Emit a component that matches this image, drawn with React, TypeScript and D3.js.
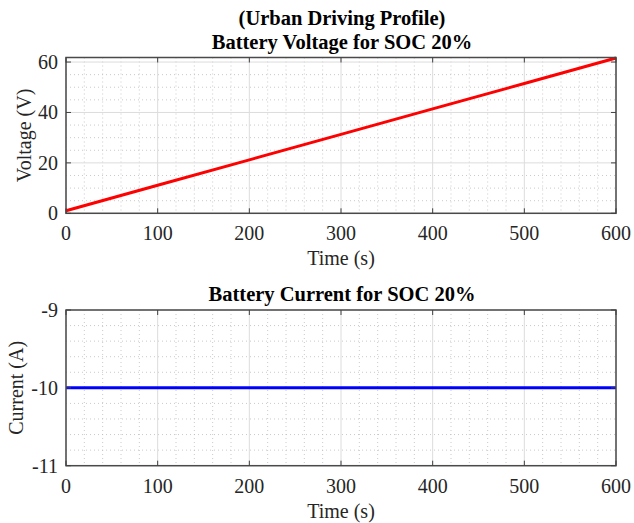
import React, { useEffect, useRef } from 'react';
import * as d3 from 'd3';

// data
const timeS = [0, 100, 200, 300, 400, 500, 600];
const voltageV = [1.0, 11.1, 21.2, 31.3, 41.4, 51.5, 61.6];
const currentA = [-10, -10, -10, -10, -10, -10, -10];

const xTicks = [0, 100, 200, 300, 400, 500, 600];
const vTicks = [0, 20, 40, 60];
const iTicks = [-11, -10, -9];

const W = 634;
const H = 523;
const FONT = '"Liberation Serif", "Times New Roman", serif';

type PanelCfg = {
  top: number;
  bottom: number;
  yDomain: [number, number];
  yTicks: number[];
  yMinorStep: number;
  values: number[];
  color: string;
  yLabel: string;
  yLabelX: number;
  titles: { text: string; y: number }[];
};

export default function App() {
  const svgRef = useRef<SVGSVGElement>(null);

  useEffect(() => {
    const svg = d3.select(svgRef.current);
    svg.selectAll('*').remove();
    svg.append('rect').attr('width', W).attr('height', H).attr('fill', '#fff');

    const left = 66;
    const right = 616;

    const x = d3.scaleLinear().domain([0, 600]).range([left, right]);

    const panels: PanelCfg[] = [
      {
        top: 57.5,
        bottom: 213.3,
        yDomain: [0, 61.8],
        yTicks: vTicks,
        yMinorStep: 5,
        values: voltageV,
        color: '#ff0000',
        yLabel: 'Voltage (V)',
        yLabelX: 24,
        titles: [
          { text: '(Urban Driving Profile)', y: 25 },
          { text: 'Battery Voltage for SOC 20%', y: 49 },
        ],
      },
      {
        top: 310,
        bottom: 465.7,
        yDomain: [-11, -9],
        yTicks: iTicks,
        yMinorStep: 0.2,
        values: currentA,
        color: '#0000ff',
        yLabel: 'Current (A)',
        yLabelX: 16,
        titles: [{ text: 'Battery Current for SOC 20%', y: 301 }],
      },
    ];

    panels.forEach((p) => {
      const y = d3.scaleLinear().domain(p.yDomain).range([p.bottom, p.top]);
      const g = svg.append('g');

      // minor grid
      const xMinor = d3.range(0, 600.001, 20).filter((v) => v % 100 !== 0);
      const yMinor = d3
        .range(p.yDomain[0], p.yDomain[1] + 1e-6, p.yMinorStep)
        .map((v) => Math.round(v * 1000) / 1000)
        .filter((v) => !p.yTicks.includes(v));
      g.selectAll('.xm')
        .data(xMinor)
        .join('line')
        .attr('x1', (d) => x(d))
        .attr('x2', (d) => x(d))
        .attr('y1', p.top)
        .attr('y2', p.bottom)
        .attr('stroke', '#bdbdbd')
        .attr('stroke-width', 0.8)
        .attr('stroke-dasharray', '1,3');
      g.selectAll('.ym')
        .data(yMinor)
        .join('line')
        .attr('x1', left)
        .attr('x2', right)
        .attr('y1', (d) => y(d))
        .attr('y2', (d) => y(d))
        .attr('stroke', '#bdbdbd')
        .attr('stroke-width', 0.8)
        .attr('stroke-dasharray', '1,3');

      // major grid
      g.selectAll('.xg')
        .data(xTicks)
        .join('line')
        .attr('x1', (d) => x(d))
        .attr('x2', (d) => x(d))
        .attr('y1', p.top)
        .attr('y2', p.bottom)
        .attr('stroke', '#dcdcdc')
        .attr('stroke-width', 1);
      g.selectAll('.yg')
        .data(p.yTicks)
        .join('line')
        .attr('x1', left)
        .attr('x2', right)
        .attr('y1', (d) => y(d))
        .attr('y2', (d) => y(d))
        .attr('stroke', '#dcdcdc')
        .attr('stroke-width', 1);

      // data line
      const line = d3
        .line<number>()
        .x((_, i) => x(timeS[i]))
        .y((d) => y(d));
      g.append('path')
        .datum(p.values)
        .attr('fill', 'none')
        .attr('stroke', p.color)
        .attr('stroke-width', 3)
        .attr('d', line);

      // box + inward ticks
      g.append('rect')
        .attr('x', left)
        .attr('y', p.top)
        .attr('width', right - left)
        .attr('height', p.bottom - p.top)
        .attr('fill', 'none')
        .attr('stroke', '#4a4a4a')
        .attr('stroke-width', 1.5);
      const tk = 5;
      xTicks.forEach((t) => {
        g.append('line').attr('x1', x(t)).attr('x2', x(t)).attr('y1', p.bottom).attr('y2', p.bottom - tk).attr('stroke', '#404040');
        g.append('line').attr('x1', x(t)).attr('x2', x(t)).attr('y1', p.top).attr('y2', p.top + tk).attr('stroke', '#404040');
      });
      p.yTicks.forEach((t) => {
        g.append('line').attr('x1', left).attr('x2', left + tk).attr('y1', y(t)).attr('y2', y(t)).attr('stroke', '#404040');
        g.append('line').attr('x1', right).attr('x2', right - tk).attr('y1', y(t)).attr('y2', y(t)).attr('stroke', '#404040');
      });

      // tick labels
      g.selectAll('.xl')
        .data(xTicks)
        .join('text')
        .attr('x', (d) => x(d))
        .attr('y', p.bottom + 27)
        .attr('text-anchor', 'middle')
        .attr('font-family', FONT)
        .attr('font-size', 20)
        .attr('fill', '#262626')
        .text((d) => d);
      g.selectAll('.yl')
        .data(p.yTicks)
        .join('text')
        .attr('x', left - 8)
        .attr('y', (d) => y(d) + 7)
        .attr('text-anchor', 'end')
        .attr('font-family', FONT)
        .attr('font-size', 20)
        .attr('fill', '#262626')
        .text((d) => d);

      // axis labels
      g.append('text')
        .attr('x', (left + right) / 2)
        .attr('y', p.bottom + 52)
        .attr('text-anchor', 'middle')
        .attr('font-family', FONT)
        .attr('font-size', 20)
        .attr('fill', '#262626')
        .text('Time (s)');
      g.append('text')
        .attr('transform', `translate(${p.yLabelX},${(p.top + p.bottom) / 2}) rotate(-90)`)
        .attr('text-anchor', 'middle')
        .attr('dominant-baseline', 'central')
        .attr('font-family', FONT)
        .attr('font-size', 20)
        .attr('fill', '#262626')
        .text(p.yLabel);

      // titles
      p.titles.forEach((t) => {
        g.append('text')
          .attr('x', (left + right) / 2 + 1)
          .attr('y', t.y)
          .attr('text-anchor', 'middle')
          .attr('font-family', FONT)
          .attr('font-weight', 'bold')
          .attr('font-size', 20.5)
          .attr('fill', '#000')
          .text(t.text);
      });
    });
  }, []);

  return (
    <svg
      ref={svgRef}
      width={W}
      height={H}
      style={{ position: 'absolute', left: 0, top: 0, display: 'block' }}
    ></svg>
  );
}
